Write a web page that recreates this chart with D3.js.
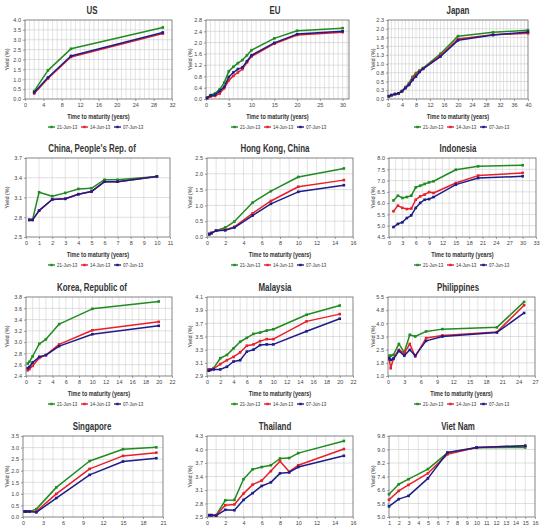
<!DOCTYPE html>
<html><head><meta charset="utf-8">
<script src="https://cdn.jsdelivr.net/npm/d3@7"></script>
<style>
html,body{margin:0;padding:0;background:#fff;}
svg{display:block;}
</style></head>
<body>
<svg id="chart" width="550" height="530"></svg>
<script>
// ---------- DATA ----------
const seriesNames = ["21-Jun-13", "14-Jun-13", "07-Jun-13"];

const usX = [2, 5, 10, 30];
const usJun21 = [0.40, 1.45, 2.54, 3.62];
const usJun14 = [0.28, 1.04, 2.13, 3.31];
const usJun07 = [0.33, 1.09, 2.18, 3.37];

const euX = [0.25, 1, 2, 3, 4, 5, 6, 7, 8, 9, 10, 15, 20, 30];
const euJun21 = [0.05, 0.14, 0.20, 0.34, 0.58, 0.98, 1.14, 1.27, 1.38, 1.55, 1.73, 2.15, 2.42, 2.51];
const euJun14 = [0.02, 0.09, 0.11, 0.19, 0.38, 0.66, 0.82, 0.94, 1.06, 1.30, 1.51, 1.96, 2.27, 2.37];
const euJun07 = [0.04, 0.12, 0.15, 0.28, 0.43, 0.78, 0.94, 1.06, 1.12, 1.34, 1.55, 1.99, 2.30, 2.40];

const jpX = [0.25, 1, 2, 3, 4, 5, 6, 7, 8, 9, 10, 15, 20, 30, 40];
const jpJun21 = [0.08, 0.11, 0.14, 0.16, 0.23, 0.34, 0.45, 0.63, 0.74, 0.81, 0.88, 1.29, 1.79, 1.90, 1.96];
const jpJun14 = [0.08, 0.11, 0.14, 0.16, 0.22, 0.32, 0.42, 0.58, 0.70, 0.78, 0.86, 1.24, 1.71, 1.83, 1.87];
const jpJun07 = [0.08, 0.11, 0.14, 0.16, 0.22, 0.31, 0.40, 0.54, 0.64, 0.77, 0.86, 1.21, 1.67, 1.82, 1.91];

const cnX = [0.25, 0.5, 1, 2, 3, 4, 5, 6, 7, 10];
const cnJun21 = [2.76, 2.76, 3.18, 3.12, 3.17, 3.23, 3.24, 3.37, 3.37, 3.42];
const cnJun14 = [2.76, 2.76, 2.90, 3.07, 3.08, 3.15, 3.19, 3.34, 3.34, 3.42];
const cnJun07 = [2.76, 2.76, 2.90, 3.07, 3.08, 3.15, 3.19, 3.34, 3.34, 3.42];

const hkX = [0.25, 0.5, 1, 2, 3, 5, 7, 10, 15];
const hkJun21 = [0.10, 0.13, 0.20, 0.30, 0.49, 1.09, 1.45, 1.90, 2.17];
const hkJun14 = [0.10, 0.13, 0.20, 0.23, 0.32, 0.75, 1.14, 1.59, 1.80];
const hkJun07 = [0.08, 0.12, 0.20, 0.21, 0.30, 0.68, 1.05, 1.43, 1.64];

const idX = [1, 2, 3, 4, 5, 6, 7, 8, 9, 10, 15, 20, 30];
const idJun21 = [6.12, 6.33, 6.23, 6.27, 6.33, 6.70, 6.77, 6.85, 6.92, 6.97, 7.48, 7.63, 7.68];
const idJun14 = [5.64, 5.89, 5.79, 5.74, 5.76, 6.15, 6.30, 6.38, 6.49, 6.45, 6.89, 7.22, 7.34];
const idJun07 = [4.94, 5.08, 5.15, 5.34, 5.46, 5.79, 6.01, 6.15, 6.18, 6.27, 6.82, 7.11, 7.19];

const krX = [0.25, 0.5, 1, 2, 3, 5, 10, 20];
const krJun21 = [2.62, 2.65, 2.75, 2.97, 3.05, 3.32, 3.59, 3.72];
const krJun14 = [2.50, 2.52, 2.58, 2.72, 2.77, 2.96, 3.21, 3.36];
const krJun07 = [2.54, 2.56, 2.64, 2.74, 2.77, 2.93, 3.14, 3.29];

const myX = [0.25, 0.5, 1, 2, 3, 4, 5, 6, 7, 8, 9, 10, 15, 20];
const myJun21 = [3.00, 3.00, 3.02, 3.17, 3.22, 3.32, 3.42, 3.48, 3.54, 3.56, 3.59, 3.61, 3.83, 3.97];
const myJun14 = [3.00, 3.00, 3.01, 3.08, 3.14, 3.19, 3.26, 3.36, 3.38, 3.43, 3.46, 3.46, 3.73, 3.84];
const myJun07 = [2.98, 2.99, 3.00, 3.00, 3.04, 3.12, 3.14, 3.27, 3.30, 3.37, 3.38, 3.38, 3.58, 3.77];

const phX = [0.25, 0.5, 1, 2, 3, 4, 5, 7, 10, 20, 25];
const phJun21 = [2.16, 2.16, 2.20, 2.83, 2.35, 3.35, 3.25, 3.54, 3.67, 3.77, 5.22];
const phJun14 = [1.92, 1.44, 2.01, 2.49, 2.30, 2.83, 2.11, 3.16, 3.31, 3.50, 5.03];
const phJun07 = [2.01, 1.92, 1.97, 2.43, 2.16, 2.49, 2.16, 3.00, 3.25, 3.48, 4.59];

const sgX = [0.25, 0.5, 1, 2, 5, 10, 15, 20];
const sgJun21 = [0.24, 0.24, 0.24, 0.34, 1.28, 2.42, 2.93, 3.01];
const sgJun14 = [0.24, 0.24, 0.24, 0.24, 1.00, 2.08, 2.64, 2.78];
const sgJun07 = [0.24, 0.24, 0.24, 0.20, 0.82, 1.82, 2.40, 2.54];

const thX = [0.25, 0.5, 1, 2, 3, 4, 5, 6, 7, 8, 9, 10, 15];
const thJun21 = [2.54, 2.54, 2.54, 2.87, 2.88, 3.34, 3.56, 3.61, 3.65, 3.80, 3.81, 3.92, 4.19];
const thJun14 = [2.54, 2.54, 2.54, 2.76, 2.78, 3.02, 3.22, 3.31, 3.52, 3.74, 3.51, 3.65, 4.01];
const thJun07 = [2.54, 2.54, 2.53, 2.66, 2.65, 2.88, 3.03, 3.19, 3.27, 3.47, 3.49, 3.61, 3.86];

const vnX = [1, 2, 3, 5, 7, 10, 15];
const vnJun21 = [6.35, 6.94, 7.24, 7.84, 8.80, 9.10, 9.12];
const vnJun14 = [6.02, 6.55, 6.90, 7.59, 8.71, 9.12, 9.22];
const vnJun07 = [5.63, 6.06, 6.25, 7.29, 8.82, 9.12, 9.22];

// panel definitions: title, maturities, series, y axis [min,max,step], x axis [min,max,step,labelMax], minor x grid step
const panels = [
  {title: "US", x: usX, s: [usJun21, usJun14, usJun07], y: [0, 4, 0.5], xa: [0, 32, 4, 32], minor: 1},
  {title: "EU", x: euX, s: [euJun21, euJun14, euJun07], y: [0, 2.8, 0.4], xa: [0, 31.4, 5, 30], minor: 1},
  {title: "Japan", x: jpX, s: [jpJun21, jpJun14, jpJun07], y: [0, 2.25, 0.25], xa: [0, 40, 4, 40], minor: 1},
  {title: "China, People's Rep. of", x: cnX, s: [cnJun21, cnJun14, cnJun07], y: [2.5, 3.7, 0.3], xa: [0, 11, 1, 11], minor: 1},
  {title: "Hong Kong, China", x: hkX, s: [hkJun21, hkJun14, hkJun07], y: [0, 2.5, 0.5], xa: [0, 16, 2, 16], minor: 1},
  {title: "Indonesia", x: idX, s: [idJun21, idJun14, idJun07], y: [4.5, 8, 0.5], xa: [0, 33, 3, 33], minor: 1.5},
  {title: "Korea, Republic of", x: krX, s: [krJun21, krJun14, krJun07], y: [2.4, 3.8, 0.2], xa: [0, 22, 2, 22], minor: 1},
  {title: "Malaysia", x: myX, s: [myJun21, myJun14, myJun07], y: [2.9, 4.1, 0.2], xa: [0, 22, 2, 22], minor: 1},
  {title: "Philippines", x: phX, s: [phJun21, phJun14, phJun07], y: [1, 5.5, 0.75], xa: [0, 27, 3, 27], minor: 1.5},
  {title: "Singapore", x: sgX, s: [sgJun21, sgJun14, sgJun07], y: [0, 3.5, 0.5], xa: [0, 21, 3, 21], minor: 1.5},
  {title: "Thailand", x: thX, s: [thJun21, thJun14, thJun07], y: [2.5, 4.3, 0.3], xa: [0, 16, 2, 16], minor: 1},
  {title: "Viet Nam", x: vnX, s: [vnJun21, vnJun14, vnJun07], y: [5, 9.8, 0.8], xa: [1, 16, 1, 16], minor: 1}
];

// ---------- LAYOUT / STYLE ----------
const colors = ["#1f8c1f", "#e8202a", "#1c1c8a"];
const colX = [0, 183, 366];
const rowTop = [20, 158, 297, 436];
const rowBottom = [99, 237, 376, 517];
const plotLR = [[25,172],[206,349],[388,528],[26,170],[207,353],[389,536],[26,172],[207,353],[388,535],[23,163],[207,353],[389,535]];
const FONT = "'Liberation Sans Narrow','Arial Narrow','Liberation Sans',sans-serif";

const svg = d3.select("#chart");

function fmt(v){ return (Math.round(v*100)/100 + 1e-9).toFixed(1); }

panels.forEach((p, i) => {
  const r = Math.floor(i/3), c = i % 3;
  const x0 = colX[c];
  const [L, R] = plotLR[i];
  const T = rowTop[r], B = rowBottom[r];
  const xs = d3.scaleLinear().domain([p.xa[0], p.xa[1]]).range([L, R]);
  const ys = d3.scaleLinear().domain([p.y[0], p.y[1]]).range([B, T]);
  const g = svg.append("g");

  // title (condensed look via horizontal scale)
  g.append("text").attr("transform", `translate(${x0 + 92},${T - 6}) scale(0.72,1)`)
    .attr("text-anchor", "middle").attr("font-family", FONT).attr("font-weight", "bold")
    .attr("font-size", 11).attr("fill", "#333").text(p.title);

  // grid
  const yTicks = d3.range(0, Math.round((p.y[1]-p.y[0])/p.y[2]) + 1).map(k => p.y[0] + k*p.y[2]);
  const nMinor = Math.round((p.xa[1]-p.xa[0])/p.minor);
  const xMinor = d3.range(1, nMinor + 1).map(k => p.xa[0] + k*p.minor).filter(v => v < p.xa[1] - 1e-6);
  g.append("g").selectAll("line.v").data(xMinor).join("line")
    .attr("x1", d => xs(d)).attr("x2", d => xs(d)).attr("y1", T).attr("y2", B)
    .attr("stroke", "#d0d0d0").attr("stroke-width", 0.6);
  g.append("g").selectAll("line.h").data(yTicks.slice(1, -1)).join("line")
    .attr("x1", L).attr("x2", R).attr("y1", d => ys(d)).attr("y2", d => ys(d))
    .attr("stroke", "#cacaca").attr("stroke-width", 0.6);
  g.append("rect").attr("x", L).attr("y", T).attr("width", R-L).attr("height", B-T)
    .attr("fill", "none").attr("stroke", "#666").attr("stroke-width", 0.8);

  // y axis
  const yAxis = d3.axisLeft(ys).tickValues(yTicks).tickFormat(fmt).tickSize(2).tickPadding(2);
  const ya = g.append("g").attr("transform", `translate(${L},0)`).call(yAxis);
  // x axis
  const xTicks = d3.range(0, Math.round((p.xa[3]-p.xa[0])/p.xa[2]) + 1).map(k => p.xa[0] + k*p.xa[2]);
  const xAxis = d3.axisBottom(xs).tickValues(xTicks).tickFormat(d3.format("d")).tickSize(2).tickPadding(2);
  const xa = g.append("g").attr("transform", `translate(0,${B})`).call(xAxis);
  [ya, xa].forEach(a => {
    a.select(".domain").remove();
    a.selectAll("line").attr("stroke", "#666").attr("stroke-width", 0.6);
    a.selectAll("text").attr("font-family", FONT).attr("font-size", 5.5).attr("fill", "#444");
  });

  // axis titles
  g.append("text").attr("transform", `translate(${x0 + 9},${(T+B)/2}) rotate(-90)`)
    .attr("text-anchor", "middle").attr("font-family", FONT).attr("font-size", 5.5).attr("fill", "#333")
    .text("Yield (%)");
  if (r < 3) {
    g.append("text").attr("transform", `translate(${(L+R)/2},${B + 20}) scale(0.85,1)`)
      .attr("text-anchor", "middle").attr("font-family", FONT).attr("font-weight", "bold")
      .attr("font-size", 6.5).attr("fill", "#333").text("Time to maturity (years)");
    // legend
    const lg = g.append("g").attr("transform", `translate(${x0 + 48},${B + 28})`);
    seriesNames.forEach((n, k) => {
      const ox = k * 33;
      lg.append("line").attr("x1", ox).attr("x2", ox + 7).attr("y1", 0).attr("y2", 0)
        .attr("stroke", colors[k]).attr("stroke-width", 1.4);
      lg.append("rect").attr("x", ox + 2.3).attr("y", -1.2).attr("width", 2.4).attr("height", 2.4).attr("fill", colors[k]);
      lg.append("text").attr("x", ox + 9).attr("y", 1.6).attr("font-family", FONT)
        .attr("font-size", 4.5).attr("fill", "#333").text(n);
    });
  }

  // series
  const line = d3.line().x(d => xs(d[0])).y(d => ys(d[1]));
  p.s.forEach((vals, k) => {
    const pts = p.x.map((xv, j) => [xv, vals[j]]);
    g.append("path").datum(pts).attr("d", line).attr("fill", "none")
      .attr("stroke", colors[k]).attr("stroke-width", 1.5).attr("stroke-linejoin", "round");
    g.append("g").selectAll("rect").data(pts).join("rect")
      .attr("x", d => xs(d[0]) - 1.3).attr("y", d => ys(d[1]) - 1.3)
      .attr("width", 2.6).attr("height", 2.6).attr("fill", colors[k]);
  });
});
</script>
</body></html>
